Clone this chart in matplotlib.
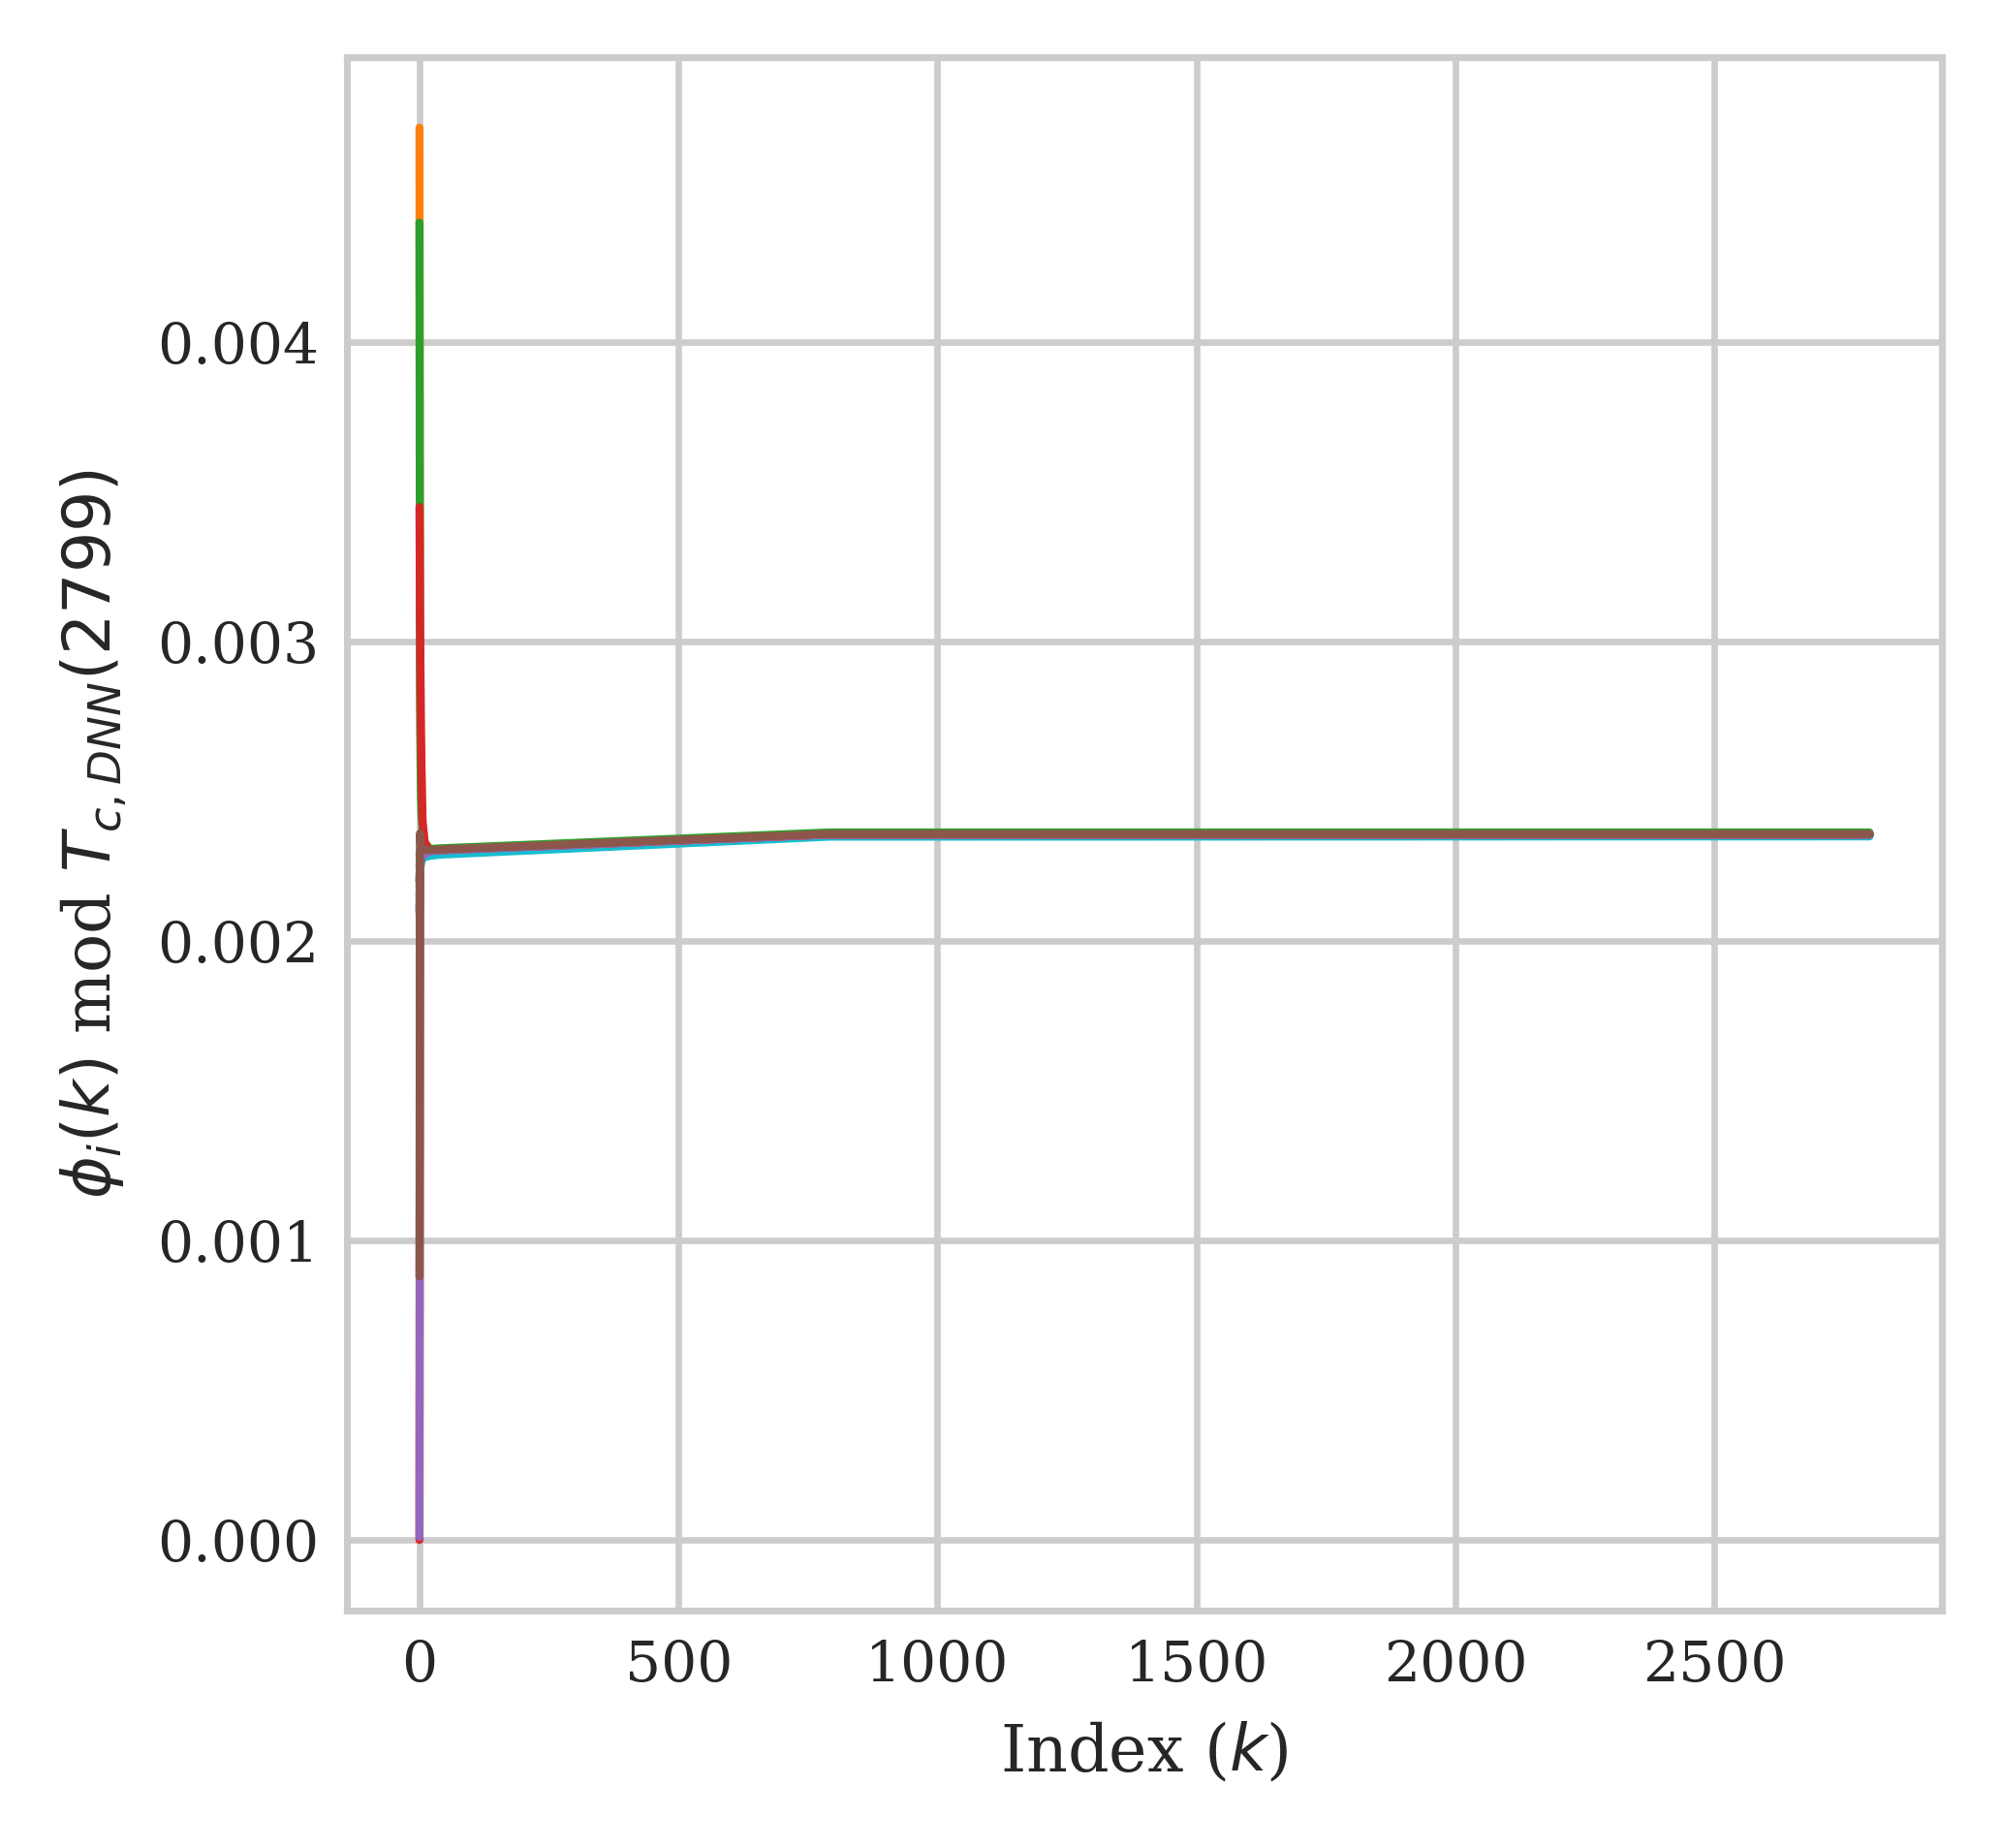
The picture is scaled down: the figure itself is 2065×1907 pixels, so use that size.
import matplotlib
matplotlib.use('Agg')
import matplotlib.pyplot as plt
import seaborn as sns

k_points = [0, 1, 2, 3, 4, 6, 10, 20, 40, 790, 2799]

# phi_i(k) mod T_c,DNN(2799), one list per trajectory, in drawing order
phi_0 = [0.00225, 0.00227, 0.00228, 0.00229, 0.00229, 0.00229, 0.00229, 0.002295, 0.002298, 0.002353, 0.002353]
phi_1 = [0.004717, 0.00300, 0.00270, 0.00255, 0.00246, 0.00239, 0.00233, 0.002300, 0.002300, 0.002353, 0.002353]
phi_2 = [0.00440, 0.00285, 0.00260, 0.00248, 0.00242, 0.00237, 0.00233, 0.002308, 0.002310, 0.002363, 0.002363]
phi_3 = [0.00345, 0.00310, 0.00290, 0.00270, 0.00258, 0.00240, 0.00233, 0.002302, 0.002302, 0.002354, 0.002354]
phi_4 = [0.00210, 0.00224, 0.00227, 0.00228, 0.00229, 0.00229, 0.00229, 0.002295, 0.002298, 0.002353, 0.002353]
phi_5 = [0.00220, 0.00228, 0.00229, 0.00230, 0.00230, 0.00230, 0.00230, 0.002302, 0.002305, 0.002358, 0.002358]
phi_6 = [0.00208, 0.00222, 0.00226, 0.00228, 0.00229, 0.00229, 0.00230, 0.002302, 0.002304, 0.002357, 0.002357]
phi_7 = [0.00215, 0.00225, 0.00228, 0.00229, 0.00229, 0.00230, 0.00230, 0.002302, 0.002304, 0.002357, 0.002357]
phi_8 = [0.00218, 0.00226, 0.00228, 0.00229, 0.00229, 0.00230, 0.00230, 0.002303, 0.002305, 0.002358, 0.002358]
phi_9 = [0.00210, 0.00220, 0.00225, 0.00226, 0.00227, 0.00228, 0.00228, 0.002285, 0.002289, 0.002349, 0.002350]
phi_10 = [0.00220, 0.00227, 0.00229, 0.00229, 0.00230, 0.00230, 0.00230, 0.002302, 0.002304, 0.002356, 0.002356]
phi_11 = [0.00228, 0.00229, 0.00230, 0.00230, 0.00230, 0.00230, 0.00230, 0.002302, 0.002304, 0.002356, 0.002356]
phi_12 = [0.00229, 0.00230, 0.00230, 0.00230, 0.00230, 0.00230, 0.00230, 0.002304, 0.002306, 0.002359, 0.002359]
phi_13 = [0.00000, 0.00215, 0.00226, 0.00228, 0.00229, 0.00230, 0.00230, 0.002302, 0.002304, 0.002356, 0.002356]
phi_14 = [0.00001, 0.00220, 0.00227, 0.00229, 0.00229, 0.00229, 0.00229, 0.002300, 0.002303, 0.002356, 0.002356]
phi_15 = [0.00088, 0.00236, 0.00233, 0.00232, 0.002315, 0.00231, 0.002305, 0.002304, 0.002306, 0.002358, 0.002358]

trajectories = [phi_0, phi_1, phi_2, phi_3, phi_4, phi_5, phi_6, phi_7,
                phi_8, phi_9, phi_10, phi_11, phi_12, phi_13, phi_14, phi_15]

sns.set_theme(style='whitegrid', context='paper')
plt.rcParams['font.family'] = ['DejaVu Serif']
plt.rcParams['mathtext.fontset'] = 'dejavusans'
plt.rcParams['axes.prop_cycle'] = plt.cycler(color=plt.get_cmap('tab10').colors)
plt.rcParams['axes.linewidth'] = 0.85
plt.rcParams['grid.linewidth'] = 0.8

fig = plt.figure(figsize=(2065/600, 1907/600), dpi=600)
ax = fig.add_axes([0.1734, 0.1285, 0.7971, 0.8406])

for phi in trajectories:
    ax.plot(k_points, phi, linewidth=1.0)

ax.set_xlabel(r'Index ($k$)', fontsize=8, labelpad=3.5)
ax.set_ylabel(r'$\phi_i(k)$ mod $T_{c,DNN}(2799)$', fontsize=8, labelpad=3.5)
ax.tick_params(labelsize=7, length=0, pad=3.5)
ax.set_xticks([0, 500, 1000, 1500, 2000, 2500])
ax.set_yticks([0.000, 0.001, 0.002, 0.003, 0.004])
ax.yaxis.set_major_formatter(matplotlib.ticker.FormatStrFormatter('%.3f'))

fig.savefig('out.png', dpi=600)
